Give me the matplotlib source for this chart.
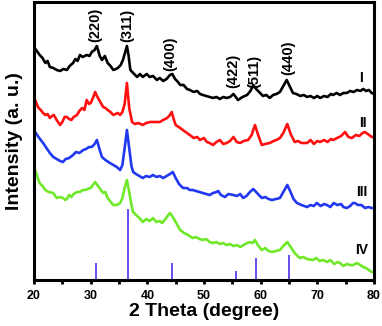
import matplotlib
matplotlib.use("Agg")
import matplotlib.pyplot as plt

# XRD patterns, intensity in arbitrary units (already offset for stacking)
theta_I = [20.0, 20.5, 21.0, 21.5, 22.0, 22.4, 22.8, 23.4, 24.0, 24.6, 25.2, 25.8, 26.3, 26.9,
           27.3, 27.7, 28.1, 28.6, 29.3, 29.8, 30.2, 30.7, 31.1, 31.6, 32.0, 32.5, 33.0, 33.5,
           34.0, 34.5, 34.8, 35.3, 35.7, 36.1, 36.4, 36.7, 37.0, 37.5, 38.2, 38.7, 39.2, 39.9,
           40.4, 41.0, 41.7, 42.2, 42.8, 43.4, 44.0, 44.4, 44.9, 45.4, 45.8, 46.4, 47.0, 47.5,
           48.2, 48.8, 49.3, 49.8, 50.4, 51.0, 51.6, 52.2, 52.8, 53.4, 54.0, 54.6, 55.2, 55.6,
           56.0, 56.8, 57.6, 58.2, 58.7, 59.2, 59.9, 60.4, 61.0, 61.6, 62.2, 62.8, 63.4, 64.0,
           64.6, 65.1, 65.7, 66.3, 67.0, 67.6, 68.2, 68.8, 69.4, 70.0, 70.5, 71.2, 71.8, 72.4,
           72.8, 73.4, 74.0, 74.6, 75.2, 75.8, 76.4, 77.0, 77.6, 78.1, 78.6, 79.1, 79.6, 80.0]
int_I = [233, 229, 225, 222, 217, 219, 213, 212, 210, 209, 211, 210, 214, 217,
         221, 219, 225, 223, 225, 224, 228, 230, 234, 224, 220, 224, 217, 214,
         210, 211, 212, 215, 220, 228, 234, 224, 210, 207, 203, 206, 203, 206,
         203, 204, 200, 202, 199, 201, 205, 206, 201, 198, 195, 195, 191, 190,
         188, 189, 186, 185, 184, 183, 182, 183, 181, 183, 182, 183, 186, 183,
         180, 183, 185, 189, 195, 191, 187, 184, 185, 182, 185, 186, 188, 194,
         200, 194, 187, 186, 184, 185, 183, 184, 182, 184, 182, 184, 183, 186,
         185, 187, 185, 187, 187, 189, 188, 190, 189, 191, 189, 190, 187, 186]

theta_II = [20.0, 20.4, 20.8, 21.2, 21.6, 22.0, 22.4, 22.8, 23.2, 23.5, 24.0, 24.6, 25.0, 25.4,
            25.8, 26.2, 26.6, 27.0, 27.6, 28.0, 28.5, 28.9, 29.3, 29.7, 30.0, 30.4, 30.8, 31.1,
            31.5, 31.9, 32.2, 32.6, 33.0, 33.5, 34.0, 34.4, 34.8, 35.2, 35.6, 36.0, 36.4, 36.8,
            37.3, 37.8, 38.4, 39.2, 39.8, 40.5, 41.2, 42.2, 42.8, 43.5, 44.0, 44.3, 44.7, 45.0,
            45.8, 46.5, 47.0, 47.5, 48.2, 48.8, 49.3, 50.0, 50.5, 51.0, 51.6, 52.2, 52.8, 53.4,
            54.0, 54.6, 55.2, 55.8, 56.4, 57.0, 57.8, 58.4, 59.0, 59.5, 60.2, 60.8, 61.6, 62.3,
            62.8, 63.4, 64.0, 64.7, 65.3, 66.0, 66.6, 67.2, 68.2, 68.8, 69.4, 70.0, 70.5, 71.2,
            71.8, 72.4, 72.8, 73.5, 74.2, 74.9, 75.5, 76.1, 76.8, 77.4, 78.0, 78.4, 78.9, 79.6,
            80.0]
int_II = [183, 177, 172, 170, 167, 165, 166, 162, 164, 165, 160, 155, 158, 163,
          163, 161, 160, 163, 165, 169, 172, 170, 180, 176, 177, 182, 188, 184,
          180, 176, 173, 172, 170, 168, 165, 166, 167, 165, 168, 176, 197, 172,
          158, 156, 157, 155, 157, 158, 158, 158, 160, 162, 165, 168, 160, 155,
          152, 149, 147, 145, 142, 143, 140, 142, 138, 137, 135, 138, 140, 136,
          137, 139, 143, 138, 137, 139, 140, 145, 155, 146, 135, 136, 137, 139,
          140, 142, 147, 156, 146, 138, 139, 137, 137, 140, 136, 139, 138, 140,
          138, 141, 140, 142, 144, 148, 143, 142, 145, 144, 147, 148, 146, 143,
          143]

theta_III = [20.0, 20.2, 20.8, 21.6, 22.2, 22.8, 23.4, 24.0, 24.6, 25.1, 25.6, 26.2, 26.9, 27.4,
             28.0, 28.7, 29.2, 29.7, 30.2, 30.7, 31.1, 31.6, 32.0, 32.6, 33.4, 34.0, 34.6, 35.2,
             35.6, 36.0, 36.4, 36.8, 37.2, 37.5, 38.0, 38.6, 39.2, 39.8, 40.4, 41.0, 41.6, 42.2,
             42.8, 43.4, 44.0, 44.5, 45.0, 45.6, 46.3, 47.0, 47.5, 48.0, 48.6, 49.2, 49.8, 50.4,
             51.0, 51.6, 52.2, 52.5, 53.0, 53.7, 54.3, 55.2, 55.8, 56.4, 56.9, 57.5, 58.1, 58.7,
             59.2, 60.2, 60.8, 61.4, 62.0, 62.7, 63.4, 64.0, 64.7, 65.2, 65.8, 66.4, 67.2, 68.2,
             68.8, 69.4, 69.9, 70.6, 71.2, 71.7, 72.3, 72.9, 73.5, 74.2, 74.6, 75.2, 75.8, 76.3,
             76.6, 77.2, 77.8, 78.4, 79.0, 79.6, 80.0]
int_III = [150, 148, 143, 137, 132, 127, 123, 121, 119, 118, 121, 122, 125, 128,
           127, 130, 131, 133, 133, 136, 140, 130, 123, 120, 117, 115, 113, 110,
           115, 132, 150, 132, 114, 108, 106, 104, 102, 104, 103, 105, 103, 104,
           102, 104, 106, 108, 102, 96, 92, 92, 90, 90, 89, 88, 87, 86,
           85, 87, 88, 89, 85, 83, 86, 85, 84, 86, 82, 84, 88, 91,
           88, 82, 83, 81, 80, 81, 82, 88, 95, 89, 81, 77, 75, 73,
           75, 74, 77, 74, 76, 75, 73, 77, 75, 76, 73, 72, 74, 77,
           77, 75, 75, 72, 73, 72, 72]

theta_IV = [20.2, 20.6, 21.0, 21.5, 22.0, 22.6, 23.4, 24.0, 24.6, 25.1, 25.5, 25.8, 26.2, 26.6,
            27.0, 27.6, 28.1, 28.6, 29.0, 29.5, 30.0, 30.4, 30.8, 31.3, 31.8, 32.2, 32.6, 32.9,
            33.4, 34.0, 34.6, 35.2, 35.6, 36.0, 36.4, 36.8, 37.2, 37.5, 38.0, 38.6, 39.2, 39.8,
            40.4, 41.0, 41.6, 42.2, 42.6, 43.2, 43.7, 44.0, 44.5, 45.0, 45.8, 46.5, 47.2, 48.0,
            48.6, 49.2, 49.8, 50.4, 51.0, 51.6, 52.2, 52.8, 53.4, 54.0, 54.6, 55.2, 55.8, 56.4,
            57.0, 57.6, 58.1, 58.6, 59.0, 59.5, 60.2, 60.8, 61.4, 62.0, 62.7, 63.4, 64.0, 64.7,
            65.3, 66.0, 66.9, 67.5, 68.2, 69.2, 69.8, 70.4, 71.0, 71.7, 72.3, 73.0, 73.6, 74.0,
            74.6, 75.2, 75.8, 76.3, 77.0, 77.6, 78.1, 78.6, 79.1, 79.6, 80.0]
int_IV = [110, 103, 97, 94, 90, 88, 87, 82, 83, 82, 80, 81, 85, 83,
          86, 88, 88, 90, 90, 91, 92, 95, 98, 94, 90, 87, 88, 83,
          79, 75, 75, 77, 82, 92, 100, 88, 75, 68, 65, 62, 58, 61,
          59, 62, 58, 59, 57, 61, 65, 67, 63, 58, 50, 47, 45, 42,
          43, 41, 40, 41, 38, 37, 38, 36, 37, 35, 36, 34, 35, 33,
          35, 37, 38, 37, 40, 35, 30, 32, 29, 28, 29, 30, 34, 38,
          33, 27, 22, 23, 21, 20, 22, 19, 20, 18, 20, 16, 18, 17,
          14, 16, 15, 15, 17, 15, 13, 12, 10, 8, 8]

# standard reference pattern (sticks)
ref_pos = [30.9, 36.6, 44.3, 55.6, 59.2, 65.0]
ref_int = [17, 71, 17, 9, 22, 25]

hkl_labels = ["(220)", "(311)", "(400)", "(422)", "(511)", "(440)"]
hkl_x = [30.8, 36.4, 44.1, 55.1, 58.8, 64.8]
hkl_y = [238, 238, 209, 192, 192, 205]

curve_names = ["I", "II", "III", "IV"]
curve_label_x = [77.7, 78.1, 77.9, 77.9]
curve_label_y = [202, 157, 88, 30]

plt.rcParams['font.family'] = ['Liberation Sans', 'DejaVu Sans']

fig = plt.figure(figsize=(3.82, 3.26), dpi=100)
ax = fig.add_axes([0.089, 0.141, 0.890, 0.853])

ax.plot(theta_I, int_I, color='black', lw=1.9)
ax.plot(theta_II, int_II, color='#ff1010', lw=1.9)
ax.plot(theta_III, int_III, color='#2238f0', lw=1.9)
ax.plot(theta_IV, int_IV, color='#6fe82a', lw=1.9)
ax.vlines(ref_pos, 0, ref_int, colors='#4a30e8', lw=1.2)

for lab, x, y in zip(hkl_labels, hkl_x, hkl_y):
    ax.text(x, y, lab, rotation=90, ha='center', va='bottom', fontsize=10.5,
            fontweight='bold')

for lab, x, y in zip(curve_names, curve_label_x, curve_label_y):
    ax.text(x, y, lab, ha='center', va='center', fontsize=10, fontweight='bold')

ax.set_xlim(20, 80)
ax.set_ylim(0, 278)
ax.set_xticks([20, 30, 40, 50, 60, 70, 80])
ax.set_xticks([25, 35, 45, 55, 65, 75], minor=True)
ax.set_yticks([])
ax.tick_params(axis='x', which='both', direction='out', length=3, width=2,
               labelsize=9, pad=4)
for t in ax.get_xticklabels():
    t.set_fontweight('bold')
for s in ax.spines.values():
    s.set_linewidth(2.2)

ax.set_xlabel("2 Theta (degree)", fontsize=14, fontweight='bold', labelpad=1)
ax.set_ylabel("Intensity (a. u.)", fontsize=14, fontweight='bold', labelpad=8)

fig.savefig("out.png", dpi=100)
